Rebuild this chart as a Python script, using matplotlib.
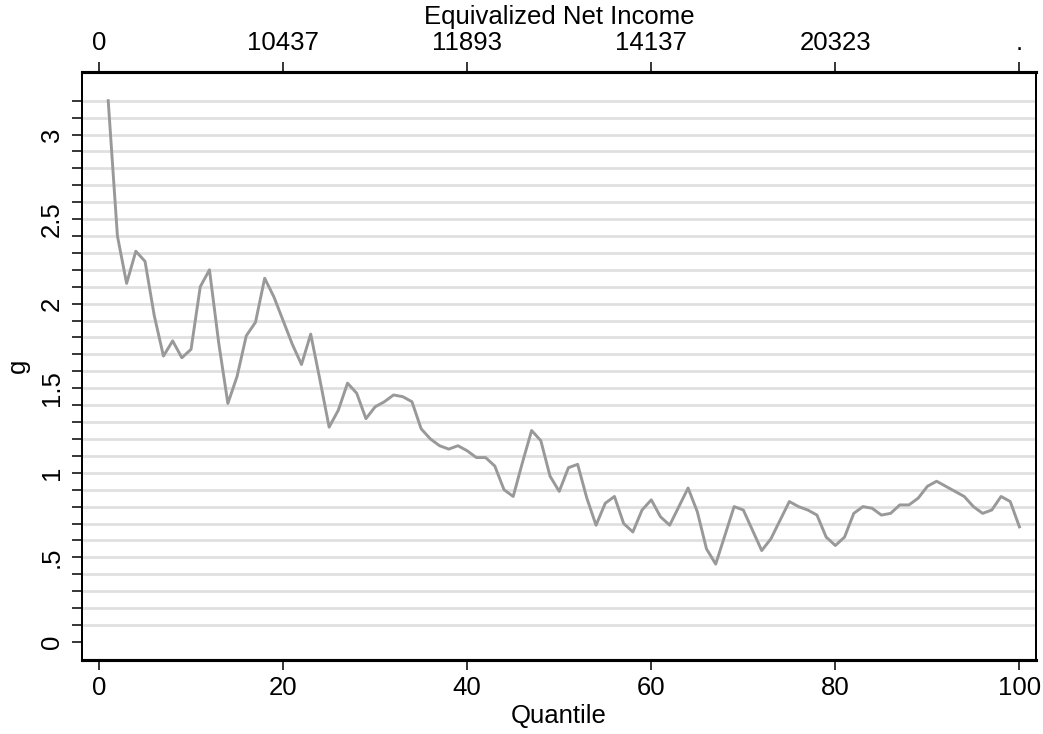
import numpy as np
import matplotlib.pyplot as plt
from matplotlib.ticker import MultipleLocator

plt.rcParams['font.family'] = ['Liberation Sans', 'DejaVu Sans']

quantile = np.arange(1, 101)
g = [3.20, 2.40, 2.12, 2.31, 2.25, 1.93, 1.69, 1.78, 1.68, 1.73,
     2.10, 2.20, 1.77, 1.41, 1.57, 1.81, 1.89, 2.15, 2.04, 1.90,
     1.76, 1.64, 1.82, 1.55, 1.27, 1.37, 1.53, 1.47, 1.32, 1.39,
     1.42, 1.46, 1.45, 1.42, 1.26, 1.20, 1.16, 1.14, 1.16, 1.13,
     1.09, 1.09, 1.04, 0.90, 0.86, 1.06, 1.25, 1.19, 0.98, 0.89,
     1.03, 1.05, 0.85, 0.69, 0.82, 0.86, 0.70, 0.65, 0.78, 0.84,
     0.74, 0.69, 0.80, 0.91, 0.77, 0.55, 0.46, 0.63, 0.80, 0.78,
     0.66, 0.54, 0.61, 0.72, 0.83, 0.80, 0.78, 0.75, 0.62, 0.57,
     0.62, 0.76, 0.80, 0.79, 0.75, 0.76, 0.81, 0.81, 0.85, 0.92,
     0.95, 0.92, 0.89, 0.86, 0.80, 0.76, 0.78, 0.86, 0.83, 0.68]

bottom_ticks = [0, 20, 40, 60, 80, 100]
top_labels = ['0', '10437', '11893', '14137', '20323', '.']
y_ticks = [0, 0.5, 1, 1.5, 2, 2.5, 3]
y_labels = ['0', '.5', '1', '1.5', '2', '2.5', '3']

fs = 18.5
fig = plt.figure(figsize=(10.43, 7.34), dpi=100)
ax = fig.add_axes([0.0786, 0.1008, 0.9147, 0.8012])

# horizontal grid lines every 0.1
for v in np.arange(1, 33) / 10:
    ax.axhline(v, color='#e0e0e0', linewidth=2, zorder=1)

ax.plot(quantile, g, color='#999999', linewidth=2.1, zorder=3)

ax.set_xlim(-1.85, 101.8)
ax.set_ylim(-0.107, 3.37)

ax.set_xticks(bottom_ticks)
ax.set_xticklabels([str(t) for t in bottom_ticks], fontsize=fs)
ax.set_yticks(y_ticks)
ax.set_yticklabels(y_labels, fontsize=fs, rotation=90, va='center')
ax.yaxis.set_minor_locator(MultipleLocator(0.1))
ax.set_yticks(np.arange(0, 33) / 10, minor=True)
ax.tick_params(axis='both', which='both', length=7.2, width=1.1, direction='out')
ax.tick_params(axis='x', pad=4)
ax.tick_params(axis='y', pad=6)

ax.set_xlabel('Quantile', fontsize=fs, labelpad=3)
ax.set_ylabel('g', fontsize=fs, labelpad=7)

ax2 = ax.twiny()
ax2.set_xlim(ax.get_xlim())
ax2.set_xticks(bottom_ticks)
ax2.set_xticklabels(top_labels, fontsize=fs)
ax2.tick_params(axis='x', length=7.2, width=1.1, pad=5)
ax2.set_xlabel('Equivalized Net Income', fontsize=fs, labelpad=5)

for a in (ax, ax2):
    a.spines['top'].set_linewidth(2.2)
    a.spines['bottom'].set_linewidth(2.2)
    a.spines['left'].set_linewidth(1.4)
    a.spines['right'].set_linewidth(1.4)

plt.savefig('out.png', dpi=100)
